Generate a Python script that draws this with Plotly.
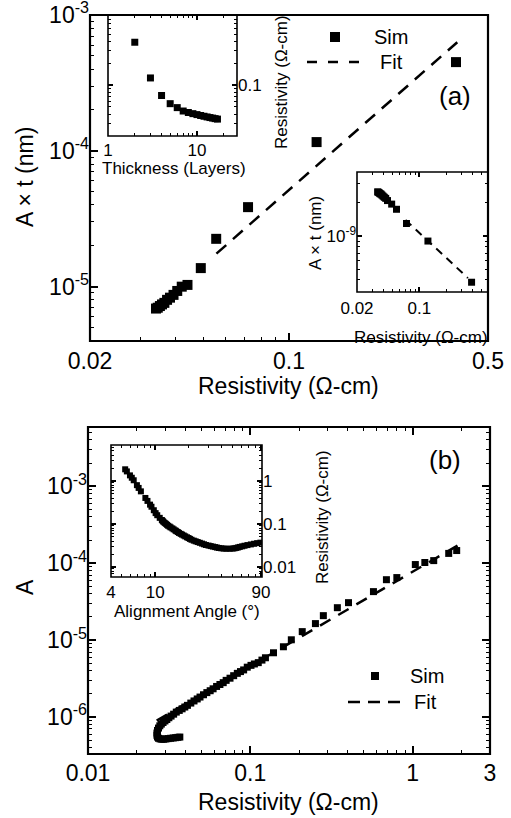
import plotly.graph_objects as go
import math

# ---------------- Panel (a) data ----------------
thickness_layers = [2, 3, 4, 5, 6, 7, 8, 9, 10, 11, 12, 13, 14, 15, 16, 17]
rho_a = [0.386, 0.125, 0.0718, 0.0555, 0.0490, 0.0440, 0.0420, 0.0405,
         0.0393, 0.0382, 0.0373, 0.0365, 0.0358, 0.0352, 0.0346, 0.0341]
at_main = [4.5e-4, 1.16e-4, 3.85e-5, 2.25e-5, 1.37e-5, 1.03e-5, 1.0e-5, 9.3e-6,
           8.7e-6, 8.3e-6, 8.0e-6, 7.6e-6, 7.4e-6, 7.2e-6, 7.0e-6, 6.9e-6]
at_inset = [3.8e-10, 9.0e-10, 1.3e-9, 1.75e-9, 1.95e-9, 2.1e-9, 2.2e-9, 2.25e-9,
            2.3e-9, 2.35e-9, 2.4e-9, 2.42e-9, 2.45e-9, 2.48e-9, 2.5e-9, 2.52e-9]
fit_a_rho = [0.0556, 0.39]
fit_a_at = [1.75e-5, 6.3e-4]
fit_a_inset_rho = [0.070, 0.351]
fit_a_inset_at = [1.40e-9, 4.15e-10]

# ---------------- Panel (b) data ----------------
angle_deg = [5.37, 5.56, 5.93, 6.16, 6.41, 6.85, 7.1, 7.44, 8.17, 8.53, 9.0, 9.27,
             9.73, 10.1, 10.45, 11.0, 11.5,
             11.7, 11.9, 12.2, 12.5, 12.8, 13.1, 13.5, 13.8, 14.3, 14.7, 15.2, 15.5,
             16.0, 16.4, 17.0, 17.5, 18.1, 18.7, 19.4, 20.0, 20.6, 21.3, 22.3, 23.2,
             24.2, 25.3, 26.5, 27.6, 28.7, 30.3, 31.7, 33.2, 34.8, 36.1, 37.6, 39.5,
             41.5, 44.0, 47.0, 50.0, 52.0, 54.0, 56.0, 58.0, 61.0, 64.0, 68.0, 73.0,
             78.0, 83.0, 89.0]
rho_b = [1.87, 1.67, 1.35, 1.19, 1.04, 0.80, 0.69, 0.574, 0.403, 0.344, 0.282, 0.252,
         0.209, 0.179, 0.160, 0.139, 0.124,
         0.118, 0.112, 0.106, 0.101, 0.0958, 0.091, 0.087, 0.0832, 0.079, 0.075, 0.071,
         0.0681, 0.065, 0.062, 0.059, 0.0566, 0.054, 0.0515, 0.049, 0.0471, 0.045,
         0.043, 0.041, 0.0395, 0.038, 0.0365, 0.035, 0.0337, 0.0325, 0.0315, 0.0306,
         0.0298, 0.0290, 0.0283, 0.0277, 0.0272, 0.0268, 0.0266, 0.0266, 0.0268,
         0.0272, 0.0278, 0.0285, 0.0293, 0.0302, 0.0312, 0.0323, 0.0335, 0.0347,
         0.0358, 0.0368]
a_b = [1.46e-4, 1.34e-4, 1.08e-4, 1.02e-4, 9.6e-5, 6.5e-5, 6.1e-5, 4.27e-5, 3.07e-5,
       2.64e-5, 2.08e-5, 1.64e-5, 1.29e-5, 1.01e-5, 8.2e-6, 6.85e-6, 5.9e-6,
       5.5e-6, 5.1e-6, 4.9e-6, 4.7e-6, 4.45e-6, 4.1e-6, 3.9e-6, 3.7e-6, 3.45e-6,
       3.2e-6, 3.0e-6, 2.8e-6, 2.65e-6, 2.5e-6, 2.33e-6, 2.2e-6, 2.08e-6, 1.95e-6,
       1.82e-6, 1.72e-6, 1.62e-6, 1.52e-6, 1.42e-6, 1.35e-6, 1.28e-6, 1.22e-6,
       1.16e-6, 1.09e-6, 1.03e-6, 9.8e-7, 9.3e-7, 8.9e-7, 8.5e-7, 8.1e-7, 7.7e-7,
       7.2e-7, 6.7e-7, 6.2e-7, 5.8e-7, 5.5e-7, 5.3e-7, 5.2e-7, 5.15e-7, 5.15e-7,
       5.2e-7, 5.25e-7, 5.3e-7, 5.35e-7, 5.4e-7, 5.45e-7, 5.5e-7]
fit_b_rho = [0.0265, 1.9]
fit_b_a = [9.0e-7, 1.7e-4]

# ---------------- Tick labels ----------------
ax_a_x_vals = [0.02, 0.1, 0.5]
ax_a_x_text = ["0.02", "0.1", "0.5"]
ax_a_y_vals = [1e-5, 1e-4, 1e-3]
ax_a_y_text = ["10<sup>-5</sup>", "10<sup>-4</sup>", "10<sup>-3</sup>"]
in1_x_vals = [1, 10]
in1_x_text = ["1", "10"]
in1_y_vals = [0.1]
in1_y_text = ["0.1"]
in2_x_vals = [0.02, 0.1]
in2_x_text = ["0.02", "0.1"]
in2_y_vals = [1e-9]
in2_y_text = ["10<sup>-9</sup>"]
ax_b_x_vals = [0.01, 0.1, 1, 3]
ax_b_x_text = ["0.01", "0.1", "1", "3"]
ax_b_y_vals = [1e-6, 1e-5, 1e-4, 1e-3]
ax_b_y_text = ["10<sup>-6</sup>", "10<sup>-5</sup>", "10<sup>-4</sup>", "10<sup>-3</sup>"]
in3_x_vals = [4, 10, 90]
in3_x_text = ["4", "10", "90"]
in3_y_vals = [0.01, 0.1, 1]
in3_y_text = ["0.01", "0.1", "1"]

FONT = "Liberation Sans, Arial, Helvetica, sans-serif"
W, H = 511, 818


def minors(lo_exp, hi_exp):
    return [m * 10.0 ** e for e in range(lo_exp, hi_exp + 1) for m in range(2, 10)]


def px(x):
    return x / W


def py(y):
    return 1 - y / H


def logaxis(dom, rng, tv, tt, anchor, fsize, tlen, mirror, side=None, mexp=(-10, 1), standoff=0):
    d = dict(type="log", domain=dom, range=rng, tickmode="array", tickvals=tv, ticktext=tt,
             ticks="inside", ticklen=tlen, tickwidth=1.5, tickcolor="black",
             showline=False, mirror=mirror,
             showgrid=False, zeroline=False, anchor=anchor, automargin=False,
             ticklabeloverflow="allow", ticklabelstandoff=standoff,
             tickfont=dict(family=FONT, size=fsize, color="black"),
             minor=dict(tickmode="array", tickvals=minors(*mexp), ticks="inside",
                        ticklen=tlen * 0.55, tickwidth=1.2, tickcolor="black", showgrid=False))
    if side:
        d["side"] = side
    return d


fig = go.Figure()
sq = "square"
fig.add_trace(go.Scatter(x=rho_a, y=at_main, mode="markers", xaxis="x", yaxis="y",
                         marker=dict(symbol=sq, size=10, color="black"), showlegend=False))
fig.add_trace(go.Scatter(x=fit_a_rho, y=fit_a_at, mode="lines", xaxis="x", yaxis="y",
                         line=dict(color="black", width=2.5, dash="13px,9px"), showlegend=False))
fig.add_trace(go.Scatter(x=thickness_layers, y=rho_a, mode="markers", xaxis="x2", yaxis="y2",
                         marker=dict(symbol=sq, size=7, color="black"), showlegend=False))
fig.add_trace(go.Scatter(x=rho_a, y=at_inset, mode="markers", xaxis="x3", yaxis="y3",
                         marker=dict(symbol=sq, size=7, color="black"), showlegend=False))
fig.add_trace(go.Scatter(x=fit_a_inset_rho, y=fit_a_inset_at, mode="lines", xaxis="x3", yaxis="y3",
                         line=dict(color="black", width=2, dash="8px,6px"), showlegend=False))
fig.add_trace(go.Scatter(x=rho_b, y=a_b, mode="markers", xaxis="x4", yaxis="y4",
                         marker=dict(symbol=sq, size=7, color="black"), showlegend=False))
fig.add_trace(go.Scatter(x=fit_b_rho, y=fit_b_a, mode="lines", xaxis="x4", yaxis="y4",
                         line=dict(color="black", width=2.5, dash="12px,9px"), showlegend=False))
fig.add_trace(go.Scatter(x=angle_deg, y=rho_b, mode="markers", xaxis="x5", yaxis="y5",
                         marker=dict(symbol=sq, size=6, color="black"), showlegend=False))

lg = math.log10

layout = dict(
    template="none",
    width=W, height=H, margin=dict(l=0, r=0, t=0, b=0, autoexpand=False),
    paper_bgcolor="white", plot_bgcolor="rgba(0,0,0,0)",
    font=dict(family=FONT, color="black"),
    xaxis=logaxis([px(90), px(488)], [lg(0.02), lg(0.5)], ax_a_x_vals, ax_a_x_text, "y", 23, 8, False, mexp=(-2, -1), standoff=4),
    yaxis=logaxis([py(341), py(15)], [-5.40, -3.0], ax_a_y_vals, ax_a_y_text, "x", 23, 8, False, mexp=(-6, -4)),
    xaxis2=logaxis([px(108), px(237)], [0, 1.45], in1_x_vals, in1_x_text, "y2", 17, 5, "ticks", mexp=(0, 1), standoff=2),
    yaxis2=logaxis([py(136), py(15)], [lg(0.02), -0.04], in1_y_vals, in1_y_text, "x2", 17, 5, "ticks", side="right", mexp=(-2, -1)),
    xaxis3=logaxis([px(357), px(488)], [lg(0.02), lg(0.59)], in2_x_vals, in2_x_text, "y3", 17, 5, "ticks", mexp=(-2, -1), standoff=4),
    yaxis3=logaxis([py(292), py(172)], [-9.509, -8.418], in2_y_vals, in2_y_text, "x3", 17, 5, "ticks", mexp=(-10, -9)),
    xaxis4=logaxis([px(88), px(490)], [-2, lg(3)], ax_b_x_vals, ax_b_x_text, "y4", 23, 8, "ticks", mexp=(-2, 0), standoff=3),
    yaxis4=logaxis([py(754), py(427)], [-6.48, -2.23], ax_b_y_vals, ax_b_y_text, "x4", 23, 8, "ticks", mexp=(-7, -3)),
    xaxis5=logaxis([px(111), px(262)], [lg(4), lg(92)], in3_x_vals, in3_x_text, "y5", 17, 5, "ticks", mexp=(0, 1), standoff=3),
    yaxis5=logaxis([py(577), py(445)], [-2.233, 0.837], in3_y_vals, in3_y_text, "x5", 17, 5, "ticks", side="right", mexp=(-3, 0)),
)

ann = []


def text(x, y, s, size, angle=0):
    ann.append(dict(x=px(x), y=py(y), xref="paper", yref="paper", text=s, showarrow=False,
                    xanchor="center", yanchor="middle", textangle=angle,
                    font=dict(family=FONT, size=size, color="black")))


text(25, 177, "A × t (nm)", 23, -90)
text(288, 386, "Resistivity (Ω-cm)", 23)
text(174, 168, "Thickness (Layers)", 17)
text(282, 82, "Resistivity (Ω-cm)", 17, -90)
text(421, 337, "Resistivity (Ω-cm)", 17)
text(315, 233, "A × t (nm)", 17, -90)
text(455, 96, "(a)", 26)
text(391, 37, "Sim", 20)
text(391, 62, "Fit", 20)

text(25, 587, "A", 23, -90)
text(288, 802, "Resistivity (Ω-cm)", 23)
text(187, 611, "Alignment Angle (°)", 17)
text(322, 517, "Resistivity (Ω-cm)", 17, -90)
text(445, 460, "(b)", 26)
text(427, 676, "Sim", 20)
text(425, 702, "Fit", 20)

shapes = [
    dict(type="rect", xref="paper", yref="paper", x0=px(330), x1=px(340), y0=py(42), y1=py(32),
         fillcolor="black", line=dict(width=0)),
    dict(type="line", xref="paper", yref="paper", x0=px(307), x1=px(359), y0=py(62), y1=py(62),
         line=dict(color="black", width=2.5, dash="10px,11px")),
    dict(type="rect", xref="paper", yref="paper", x0=px(371), x1=px(379), y0=py(680), y1=py(672),
         fillcolor="black", line=dict(width=0)),
    dict(type="line", xref="paper", yref="paper", x0=px(348), x1=px(400), y0=py(702), y1=py(702),
         line=dict(color="black", width=2.5, dash="12px,8px")),
]
# frames of each subplot
for xr, yr, w in [("x", "y", 2.2), ("x2", "y2", 1.6), ("x3", "y3", 1.6), ("x4", "y4", 2.2), ("x5", "y5", 1.6)]:
    shapes.append(dict(type="rect", xref=xr + " domain", yref=yr + " domain", x0=0, x1=1, y0=0, y1=1,
                       line=dict(color="black", width=w), fillcolor="rgba(0,0,0,0)", layer="above"))

layout["annotations"] = ann
layout["shapes"] = shapes
fig.update_layout(**layout)
fig.write_html("out.html", config={"displayModeBar": False},
               post_script="document.body.style.margin='0';document.body.style.overflow='hidden';")
